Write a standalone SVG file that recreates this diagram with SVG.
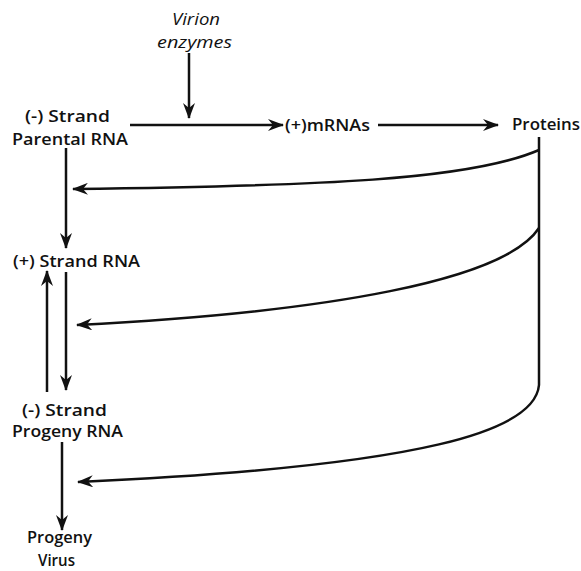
<svg xmlns="http://www.w3.org/2000/svg" width="581" height="571" viewBox="0 0 581 571">
  <style>
    .lbl { font-family: "Open Sans", "Liberation Sans", sans-serif; font-size: 17px; font-weight: 600; fill: #111; }
    .it { font-style: italic; font-weight: 400; }
    .ln { fill: none; stroke: #111; stroke-width: 2.5; }
    .ah { marker-end: url(#head); }
  </style>
  <defs>
    <marker id="head" viewBox="0 0 16 12" refX="15" refY="6" markerWidth="16" markerHeight="12" markerUnits="userSpaceOnUse" orient="auto">
      <path d="M0,0 L16,6 L0,12 L5,6 z" fill="#111"/>
    </marker>
  </defs>

  <rect width="581" height="571" fill="#fff"/>

  <g id="virion-enzymes">
    <text class="lbl it" x="172" y="25" textLength="48" lengthAdjust="spacingAndGlyphs">Virion</text>
    <text class="lbl it" x="157" y="48" textLength="75" lengthAdjust="spacingAndGlyphs">enzymes</text>
  </g>
  <g id="parental-rna">
    <text class="lbl" x="25" y="122" textLength="85" lengthAdjust="spacingAndGlyphs">(-) Strand</text>
    <text class="lbl" x="12" y="145" textLength="116" lengthAdjust="spacingAndGlyphs">Parental  RNA</text>
  </g>
  <g id="mrnas">
    <text class="lbl" x="285" y="131" textLength="85" lengthAdjust="spacingAndGlyphs">(+)mRNAs</text>
  </g>
  <g id="proteins">
    <text class="lbl" x="512" y="130" textLength="68" lengthAdjust="spacingAndGlyphs">Proteins</text>
  </g>
  <g id="plus-strand">
    <text class="lbl" x="13" y="267" textLength="127" lengthAdjust="spacingAndGlyphs">(+) Strand RNA</text>
  </g>
  <g id="progeny-rna">
    <text class="lbl" x="22" y="416" textLength="85" lengthAdjust="spacingAndGlyphs">(-) Strand</text>
    <text class="lbl" x="12" y="437" textLength="111" lengthAdjust="spacingAndGlyphs">Progeny  RNA</text>
  </g>
  <g id="progeny-virus">
    <text class="lbl" x="27" y="543" textLength="65" lengthAdjust="spacingAndGlyphs">Progeny</text>
    <text class="lbl" x="38" y="566" textLength="37" lengthAdjust="spacingAndGlyphs">Virus</text>
  </g>

  <g id="connectors">
    <!-- top row -->
    <path class="ln ah" d="M189,53 L189,118"/>
    <path class="ln ah" d="M130,125 L283,125"/>
    <path class="ln ah" d="M378,125 L498,125"/>
    <!-- left column -->
    <path class="ln ah" d="M66,148 L66,248"/>
    <path class="ln ah" d="M66,272 L66,390"/>
    <path class="ln ah" d="M47,392 L47,271"/>
    <path class="ln ah" d="M62,442 L62,530"/>
    <!-- protein feedback -->
    <path class="ln" d="M539,137 L539,385"/>
    <path class="ln ah" d="M539,150 C470,180 320,186 73,189"/>
    <path class="ln ah" d="M539,228 C505,280 330,312 77,325"/>
    <path class="ln ah" d="M539,385 C535,430 430,466 78,482"/>
  </g>
</svg>
